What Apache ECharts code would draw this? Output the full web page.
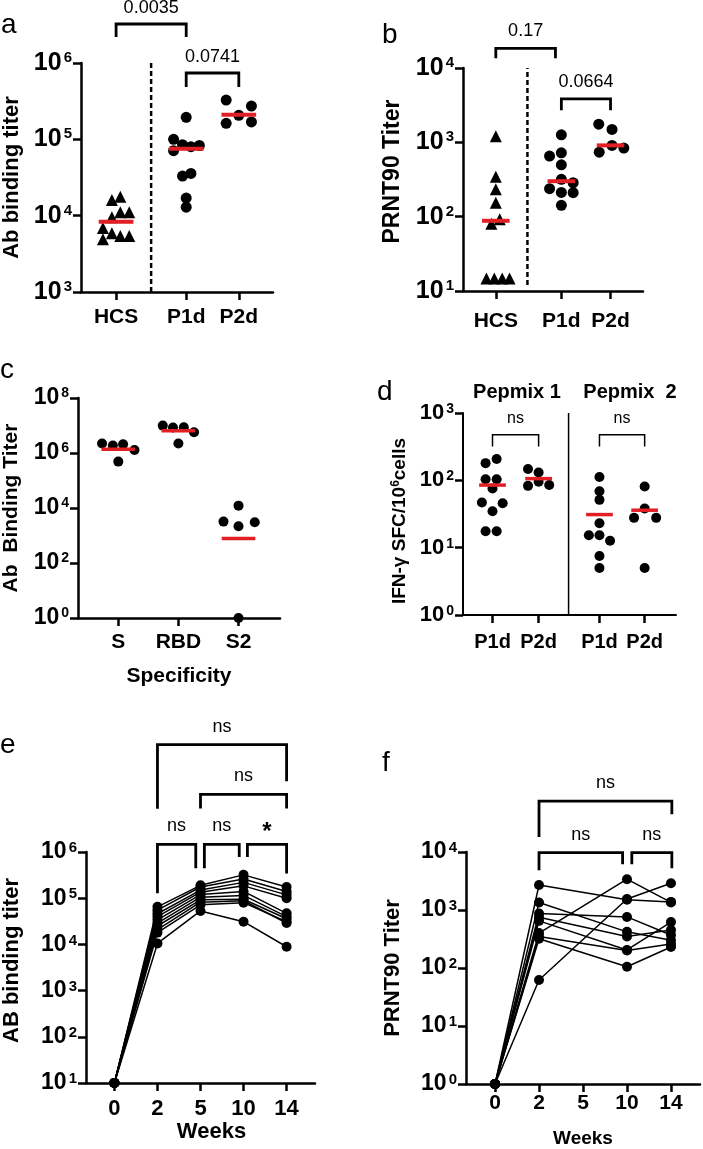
<!DOCTYPE html>
<html><head><meta charset="utf-8">
<script src="https://cdn.jsdelivr.net/npm/echarts@6/dist/echarts.min.js"></script>
<style>html,body{margin:0;padding:0;background:#fff}#c{width:703px;height:1149px}</style>
</head><body><div id="c"></div>
<script>
// ---------------- DATA ----------------
// Panel a: Ab binding titer
const aGroups = ['HCS', 'P1d', 'P2d'];
const aHCS = [16000, 17700, 9500, 11100, 11100, 6900, 5900, 5400, 5400, 4900];
const aHCSJit = [-0.08, 0.08, -0.08, 0.08, 0.25, -0.25, -0.08, 0.08, 0.25, -0.25];
const aP1d = [194000, 100000, 71000, 85000, 80000, 83000, 33000, 35800, 17000, 12900];
const aP1dJit = [0, -0.24, -0.24, -0.07, 0.09, 0.25, -0.07, 0.09, 0, 0];
const aP2d = [327000, 273000, 206000, 162000, 169000];
const aP2dJit = [-0.24, 0.24, 0, -0.24, 0.24];
const aMedians = [8300, 75000, 210000];
const aPvals = ['0.0035', '0.0741'];

// Panel b: PRNT90 titer
const bGroups = ['HCS', 'P1d', 'P2d'];
const bHCS = [1210, 344, 233, 154, 92, 80, 14.7, 14.7, 14.7, 14.7];
const bHCSJit = [0, 0, 0, 0, 0.08, -0.09, -0.19, -0.03, 0.13, 0.28];
const bP1d = [1262, 653, 723, 499, 238, 318, 286, 210, 212, 142];
const bP1dJit = [0, -0.24, 0, 0, -0.24, 0, 0.24, 0.24, 0, 0];
const bP2d = [1754, 1490, 738, 908, 836];
const bP2dJit = [-0.24, 0.03, -0.23, 0.03, 0.27];
const bMedians = [88, 300, 910];
const bPvals = ['0.17', '0.0664'];

// Panel c: Ab binding titer by specificity
const cGroups = ['S', 'RBD', 'S2'];
const cS = [2200000, 1860000, 2070000, 1290000, 486000];
const cSJit = [-0.27, -0.09, 0.08, 0.27, 0];
const cRBD = [9900000, 8400000, 8600000, 5660000, 2200000];
const cRBDJit = [-0.26, -0.09, 0.09, 0.26, 0];
const cS2 = [3200, 12200, 2160, 3020, 1];
const cS2Jit = [-0.25, 0, 0, 0.27, 0];
const cMeans = [1370000, 6500000, 770];

// Panel d: IFN-g SFC
const dPanels = ['Pepmix 1', 'Pepmix  2'];
const dGroups = ['P1d', 'P2d', 'P1d', 'P2d'];
const dPep1P1d = [180, 207, 104, 104, 75.5, 46.8, 45.8, 34.8, 17.5, 17.5];
const dPep1P1dJit = [-0.15, 0.09, -0.15, 0.09, 0, -0.23, 0.22, 0, -0.15, 0.09];
const dPep1P2d = [147, 131, 82.8, 95, 85];
const dPep1P2dJit = [-0.23, 0, -0.23, 0, 0.23];
const dPep2P1d = [112, 69, 51.3, 23, 15.3, 15.3, 12.7, 7.5, 5.0];
const dPep2P1dJit = [0, 0, 0, 0, -0.23, 0, 0.23, 0, 0];
const dPep2P2d = [81, 27.7, 38.1, 27.7, 5.0];
const dPep2P2dJit = [0, -0.23, 0, 0.25, 0];
const dMeans = [85, 106, 31, 36];
const dStats = ['ns', 'ns'];

// Panel e: AB binding titer over weeks (one row per subject)
const eWeeks = [0, 2, 5, 10, 14];
const eTiters = [
  [10, 65000, 190000, 320000, 175000],
  [10, 55000, 175000, 260000, 140000],
  [10, 46000, 150000, 220000, 118000],
  [10, 40000, 135000, 185000, 100000],
  [10, 34000, 120000, 140000, 47000],
  [10, 29000, 105000, 115000, 40000],
  [10, 25000, 92000, 95000, 36000],
  [10, 21000, 82000, 88000, 29000],
  [10, 18000, 72000, 80000, 31000],
  [10, 10500, 53000, 31000, 8900]
];
const eStats = ['ns', 'ns', 'ns', 'ns', '*'];

// Panel f: PRNT90 titer over weeks (weeks 0, 2, 10, 14)
const fWeeks = [0, 2, 10, 14];
const fTiters = [
  [1, 2700, 1500, 1380],
  [1, 62, 1550, 2900],
  [1, 400, 3400, 1350],
  [1, 1350, 420, 300],
  [1, 870, 760, 370],
  [1, 750, 350, 450],
  [1, 650, 205, 620],
  [1, 350, 200, 260],
  [1, 320, 105, 230]
];
const fStats = ['ns', 'ns', 'ns'];
const weekAxis = [0, 2, 5, 10, 14];

// ---------------- HELPERS ----------------
const FONT = '"Liberation Sans", Arial, Helvetica, sans-serif';
const RED = '#e31f26';
const BLK = '#000';

function yAx(gi, min, max, base, name, gap, fs, ss, titleFs, extra, namePad) {
  return Object.assign({
    type: 'log', gridIndex: gi, logBase: base, min: min, max: max,
    name: name, nameLocation: 'middle', nameGap: gap, nameRotate: 90,
    nameTextStyle: { fontFamily: FONT, fontWeight: 'bold', fontSize: titleFs, color: BLK, padding: namePad || 0 },
    axisLine: { show: true, onZero: false, lineStyle: { color: BLK, width: 2.5 } },
    axisTick: { show: true, length: 8, lineStyle: { color: BLK, width: 2.5 } },
    minorTick: { show: false }, splitLine: { show: false },
    axisLabel: {
      margin: 9, fontFamily: FONT, fontWeight: 'bold', fontSize: fs, color: BLK,
      formatter: v => '{b|10}{s|' + Math.round(Math.log10(v)) + '}',
      rich: {
        b: { fontFamily: FONT, fontWeight: 'bold', fontSize: fs, color: BLK, lineHeight: fs },
        s: { fontFamily: FONT, fontWeight: 'bold', fontSize: ss, color: BLK, lineHeight: ss, verticalAlign: 'top', padding: [0, 0, 0, 2] }
      }
    }
  }, extra || {});
}
function xAx(gi, min, max, ticks, labels, fs, margin, extra) {
  return Object.assign({
    type: 'value', gridIndex: gi, min: min, max: max,
    axisLine: { show: true, onZero: false, lineStyle: { color: BLK, width: 2.5 } },
    axisTick: { show: true, customValues: ticks, length: 8, lineStyle: { color: BLK, width: 2.5 } },
    splitLine: { show: false },
    axisLabel: {
      customValues: ticks, margin: margin, fontFamily: FONT, fontWeight: 'bold', fontSize: fs, color: BLK,
      formatter: v => { const i = ticks.findIndex(t => Math.abs(t - v) < 1e-6); return i >= 0 ? labels[i] : ''; }
    }
  }, extra || {});
}
function pts(gi, pos, vals, jit, symbol, size) {
  return { type: 'scatter', xAxisIndex: gi, yAxisIndex: gi, symbol: symbol, symbolSize: size, clip: false, z: 5,
    silent: true, itemStyle: { color: BLK, borderWidth: 0, opacity: 1 }, data: vals.map((v, i) => [pos + jit[i], v]) };
}
function meanLines(gi, positions, means, hw, lw) {
  return { type: 'custom', xAxisIndex: gi, yAxisIndex: gi, clip: false, z: 6, silent: true,
    encode: { x: 0, y: 1 }, data: means.map((m, i) => [positions[i], m]),
    renderItem: (p, api) => {
      const x = api.value(0), y = api.value(1);
      const a = api.coord([x - hw, y]), b = api.coord([x + hw, y]);
      return { type: 'line', shape: { x1: a[0], y1: a[1], x2: b[0], y2: b[1] }, style: { stroke: RED, lineWidth: lw } };
    } };
}
// defs: [x1, x2, topExp, leftLegExp, rightLegExp, label, labelGapPx, labelFont]
function brackets(gi, defs, lw) {
  return { type: 'custom', xAxisIndex: gi, yAxisIndex: gi, clip: false, z: 4, silent: true,
    encode: { x: 0, y: 1 }, data: defs.map(d => [d[0], Math.pow(10, d[2])]),
    renderItem: (p, api) => {
      const d = defs[p.dataIndex];
      const top = Math.pow(10, d[2]);
      const pL = api.coord([d[0], Math.pow(10, d[3])]), pTL = api.coord([d[0], top]);
      const pTR = api.coord([d[1], top]), pR = api.coord([d[1], Math.pow(10, d[4])]);
      const f = d[7];
      return { type: 'group', children: [
        { type: 'polyline', shape: { points: [pL, pTL, pTR, pR] }, style: { stroke: BLK, lineWidth: lw, fill: null } },
        { type: 'text', x: (pTL[0] + pTR[0]) / 2, y: pTL[1] - d[6],
          style: { text: d[5], fontFamily: FONT, fontSize: f.size, fontWeight: f.weight, fill: BLK, align: 'center', verticalAlign: 'middle' } }
      ] };
    } };
}
function vline(gi, x, y1, y2, type, lw) {
  return { type: 'line', xAxisIndex: gi, yAxisIndex: gi, data: [[x, y1], [x, y2]], symbol: 'none', clip: false, silent: true,
    lineStyle: { color: BLK, width: lw, type: type }, z: 3 };
}
function trajectories(gi, rows, xs) {
  return rows.map(r => ({ type: 'line', xAxisIndex: gi, yAxisIndex: gi, clip: false, silent: true, z: 5,
    data: r.map((v, i) => [xs[i], v]), symbol: 'circle', symbolSize: 10, showSymbol: true,
    lineStyle: { color: BLK, width: 1.5 }, itemStyle: { color: BLK, opacity: 1 } }));
}
function txt(x, y, text, size, weight, align) {
  return { type: 'text', x: x, y: y, silent: true,
    style: { text: text, fontFamily: FONT, fontSize: size, fontWeight: weight, fill: BLK, align: align || 'left', verticalAlign: 'middle' } };
}

// ---------------- LAYOUT ----------------
const abPos = [0.667, 2, 3];
const cPos = [0.67, 1.67, 2.67];
const dPos = [0.64, 1.64, 2.96, 3.94];
const ePos = eWeeks.map(w => weekAxis.indexOf(w) + 1);
const fPos = fWeeks.map(w => weekAxis.indexOf(w) + 1);
const pFont = { size: 18, weight: 'normal' };
const nsFont = { size: 18, weight: 'normal' };
const nsFontD = { size: 16, weight: 'normal' };
const starFont = { size: 24, weight: 'bold' };

const option = {
  animation: false,
  backgroundColor: '#fff',
  textStyle: { fontFamily: FONT },
  grid: [
    { left: 76, top: 63, width: 197, height: 229 },
    { left: 463, top: 68, width: 180, height: 223 },
    { left: 74, top: 398, width: 206, height: 220 },
    { left: 463, top: 413, width: 213, height: 202 },
    { left: 81, top: 852, width: 234, height: 231 },
    { left: 466, top: 852, width: 234, height: 232 }
  ],
  xAxis: [
    xAx(0, 0, 3.65, abPos, aGroups, 21, 15),
    xAx(1, 0, 3.66, abPos, bGroups, 21, 20),
    xAx(2, 0, 3.36, cPos, cGroups, 21, 14, { name: 'Specificity', nameLocation: 'middle', nameGap: 48,
      nameTextStyle: { fontFamily: FONT, fontWeight: 'bold', fontSize: 21, color: BLK } }),
    xAx(3, 0, 4.62, dPos, dGroups, 20, 17, { axisLine: { show: true, onZero: false, lineStyle: { color: BLK, width: 2 } } }),
    xAx(4, 0.34, 5.66, [1, 2, 3, 4, 5], weekAxis.map(String), 22, 15, { name: 'Weeks', nameLocation: 'middle', nameGap: 38,
      nameTextStyle: { fontFamily: FONT, fontWeight: 'bold', fontSize: 22, color: BLK, padding: [0, 0, 0, 22] } }),
    xAx(5, 0.34, 5.66, [1, 2, 3, 4, 5], weekAxis.map(String), 21, 9, { name: 'Weeks', nameLocation: 'middle', nameGap: 45,
      nameTextStyle: { fontFamily: FONT, fontWeight: 'bold', fontSize: 19, color: BLK } })
  ],
  yAxis: [
    yAx(0, 1e3, 1e6, 10, 'Ab binding titer', 58, 25, 15, 22),
    yAx(1, 1e1, 1e4, 10, 'PRNT90 Titer', 59, 25, 15, 23, null, [0, 0, 0, 16]),
    yAx(2, 1, 1e8, 100, 'Ab  Binding Titer', 56, 23, 14, 21),
    yAx(3, 1, 1e3, 10, '{t|IFN-γ SFC/10}{u|6}{t|cells}', 53, 22, 14, 19, {
      axisLine: { show: true, onZero: false, lineStyle: { color: BLK, width: 2 } },
      nameTextStyle: { padding: [0, 14, 0, 0], rich: {
        t: { fontFamily: FONT, fontWeight: 'bold', fontSize: 19, color: BLK, lineHeight: 20 },
        u: { fontFamily: FONT, fontWeight: 'bold', fontSize: 12, color: BLK, lineHeight: 12, verticalAlign: 'top' } } } }),
    yAx(4, 1e1, 1e6, 10, 'AB binding titer', 63, 23, 15, 22, null, [0, 0, 0, 14]),
    yAx(5, 1, 1e4, 10, 'PRNT90 Titer', 62, 23, 15, 22)
  ],
  graphic: [
    txt(1, 25, 'a', 28, 'normal'),
    txt(382, 35, 'b', 28, 'normal'),
    txt(0, 370, 'c', 28, 'normal'),
    txt(377, 392, 'd', 28, 'normal'),
    txt(0, 745, 'e', 28, 'normal'),
    txt(382, 763, 'f', 28, 'normal'),
    txt(517, 392, dPanels[0], 20, 'bold', 'center'),
    txt(630, 392, dPanels[1], 20, 'bold', 'center')
  ],
  series: [
    // a
    vline(0, 1.333, 1000, 1e6, [5, 3], 2.5),
    pts(0, abPos[0], aHCS, aHCSJit, 'triangle', 12),
    pts(0, abPos[1], aP1d, aP1dJit, 'circle', 11),
    pts(0, abPos[2], aP2d, aP2dJit, 'circle', 11),
    meanLines(0, abPos, aMedians, 0.33, 4),
    brackets(0, [[abPos[0], abPos[1], 6.511, 6.341, 6.341, aPvals[0], 16, pFont],
                 [abPos[1], abPos[2], 5.869, 5.685, 5.685, aPvals[1], 16, pFont]], 2.8),
    // b
    vline(1, 1.31, 12, 1e4, [5, 3], 2.5),
    pts(1, abPos[0], bHCS, bHCSJit, 'triangle', 12),
    pts(1, abPos[1], bP1d, bP1dJit, 'circle', 11),
    pts(1, abPos[2], bP2d, bP2dJit, 'circle', 11),
    meanLines(1, abPos, bMedians, 0.28, 4),
    brackets(1, [[abPos[0], 1.88, 4.264, 4.13, 4.13, bPvals[0], 17, pFont],
                 [abPos[1], abPos[2], 3.584, 3.432, 3.432, bPvals[1], 17, pFont]], 2.8),
    // c
    pts(2, cPos[0], cS, cSJit, 'circle', 10),
    pts(2, cPos[1], cRBD, cRBDJit, 'circle', 10),
    pts(2, cPos[2], cS2, cS2Jit, 'circle', 10),
    meanLines(2, cPos, cMeans, 0.28, 3.5),
    // d
    vline(3, 2.29, 1, 1e3, 'solid', 1.5),
    pts(3, dPos[0], dPep1P1d, dPep1P1dJit, 'circle', 10),
    pts(3, dPos[1], dPep1P2d, dPep1P2dJit, 'circle', 10),
    pts(3, dPos[2], dPep2P1d, dPep2P1dJit, 'circle', 10),
    pts(3, dPos[3], dPep2P2d, dPep2P2dJit, 'circle', 10),
    meanLines(3, dPos, dMeans, 0.29, 3.5),
    brackets(3, [[dPos[0], dPos[1], 2.677, 2.503, 2.503, dStats[0], 16, nsFontD],
                 [dPos[2], dPos[3], 2.677, 2.503, 2.503, dStats[1], 16, nsFontD]], 1.5),
    // e
    ...trajectories(4, eTiters, ePos),
    brackets(4, [[2, 5, 8.326, 6.937, 7.533, eStats[0], 18, nsFont],
                 [3, 5, 7.246, 6.944, 6.944, eStats[1], 18, nsFont],
                 [2, 2.89, 6.166, 5.108, 5.648, eStats[2], 18, nsFont],
                 [3.09, 3.9, 6.166, 5.648, 5.892, eStats[3], 18, nsFont],
                 [4.09, 5, 6.166, 5.892, 5.533, eStats[4], 12, starFont]], 2.8),
    // f
    ...trajectories(5, fTiters, fPos),
    brackets(5, [[2, 5.02, 4.878, 4.258, 4.649, fStats[0], 18, nsFont],
                 [2, 3.9, 3.99, 3.685, 3.788, fStats[1], 18, nsFont],
                 [4.11, 5.02, 3.99, 3.788, 3.719, fStats[2], 18, nsFont]], 2.8)
  ]
};
const chart = echarts.init(document.getElementById('c'), null, { renderer: 'canvas', width: 703, height: 1149 });
chart.setOption(option);
</script></body></html>
